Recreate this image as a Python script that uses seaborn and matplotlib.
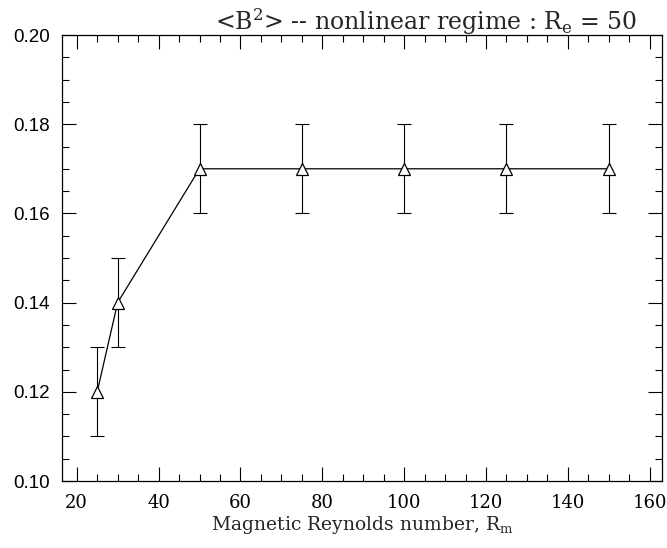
import matplotlib
matplotlib.use("Agg")
import matplotlib.pyplot as plt
from matplotlib.ticker import MultipleLocator
import seaborn as sns
import pandas as pd

# data
rm = [25, 30, 50, 75, 100, 125, 150]
b2 = [0.12, 0.14, 0.17, 0.17, 0.17, 0.17, 0.17]
err = [0.01, 0.01, 0.01, 0.01, 0.01, 0.01, 0.01]

df = pd.DataFrame({"Rm": rm, "B2": b2, "err": err})

sns.set_theme(style="ticks")
plt.rcParams["font.family"] = ["DejaVu Serif"]
plt.rcParams["mathtext.fontset"] = "dejavuserif"

fig = plt.figure(figsize=(6.67, 5.48), dpi=100)
ax = fig.add_axes([62 / 667, 1 - 481 / 548, 600 / 667, 446 / 548])

ax.errorbar(df["Rm"], df["B2"], yerr=df["err"], fmt="none", ecolor="black",
            elinewidth=0.8, capsize=5, capthick=0.8)
sns.lineplot(data=df, x="Rm", y="B2", ax=ax, color="black", linewidth=0.9,
             marker="^", markersize=8, markerfacecolor="white",
             markeredgecolor="black", markeredgewidth=0.9)

ax.set_xlim(16.4, 163)
ax.set_ylim(0.10, 0.20)
ax.xaxis.set_major_locator(MultipleLocator(20))
ax.xaxis.set_minor_locator(MultipleLocator(5))
ax.yaxis.set_major_locator(MultipleLocator(0.02))
ax.yaxis.set_minor_locator(MultipleLocator(0.005))
ax.yaxis.set_major_formatter(lambda v, p: f"{v:.2f}")

ax.tick_params(which="both", direction="in", top=True, right=True,
               color="black", width=0.8, labelsize=13, labelcolor="black")
ax.tick_params(which="major", length=10, pad=9)
ax.tick_params(which="minor", length=5)
for lab in ax.get_yticklabels():
    lab.set_family("Liberation Sans")
    lab.set_fontsize(13.5)
for s in ax.spines.values():
    s.set_color("black")
    s.set_linewidth(0.9)

# title sits right of centre in the original
fig.text(426 / 667, 1 - 30 / 548,
         r"<B$^2$> -- nonlinear regime : R$_\mathrm{e}$ = 50",
         fontsize=17, ha="center", va="baseline")
ax.set_xlabel(r"Magnetic Reynolds number, R$_\mathrm{m}$", fontsize=13.5,
              labelpad=2)
ax.set_ylabel("")

fig.savefig("out.png", dpi=100)
